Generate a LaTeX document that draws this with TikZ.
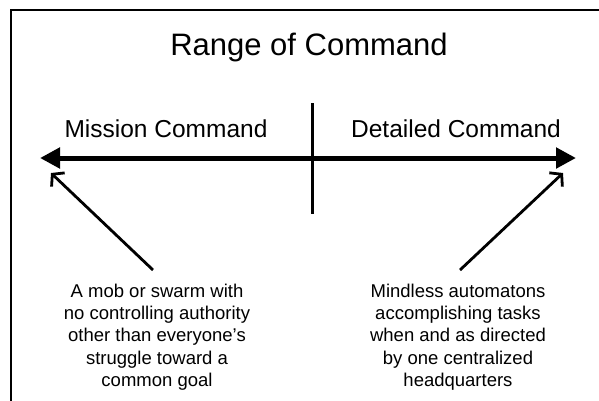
\documentclass[tikz,border=0pt]{standalone}
\usepackage{fontspec}
\setmainfont{Liberation Sans}
\usetikzlibrary{arrows.meta}
\begin{document}
\begin{tikzpicture}[x=1pt,y=-1pt,
  frame/.style={line width=2.8pt},
  titletext/.style={font=\fontsize{31}{36}\selectfont},
  sidetext/.style={font=\fontsize{24.5}{29}\selectfont, anchor=base},
  notetext/.style={font=\fontsize{18.5}{22.3}\selectfont, align=center, inner sep=0pt},
  axis/.style={line width=5pt, {Triangle[length=20pt,width=20pt]}-{Triangle[length=20pt,width=20pt]}},
  divider/.style={line width=3pt},
  pointer/.style={line width=2.8pt, -{Straight Barb[length=8pt,width=19pt,line width=2.8pt]}}]
\clip (0,0) rectangle (599,400);
\useasboundingbox (0,0) rectangle (599,400);
% outer frame, running past the right and lower edges
\draw[frame] (11,10) rectangle (640,440);
% heading
\node[titletext, anchor=base] (title) at (309,55) {Range of Command};
% the two ends of the range
\node[sidetext] (mission) at (166,137) {Mission Command};
\node[sidetext] (detailed) at (456,137) {Detailed Command};
% axis and centre divider
\coordinate (axisL) at (40,158);
\coordinate (axisR) at (576,158);
\draw[axis] (axisL) -- (axisR);
\coordinate (divTop) at (312.5,103);
\coordinate (divBot) at (312.5,214);
\draw[divider] (divTop) -- (divBot);
% explanatory notes
\node[notetext] (leftnote) at (157,337) {A mob or swarm with\\no controlling authority\\other than everyone’s\\struggle toward a\\common goal};
\node[notetext] (rightnote) at (458,337) {Mindless automatons\\accomplishing tasks\\when and as directed\\by one centralized\\headquarters};
% pointers from the notes to the ends of the axis
\coordinate (leftTail) at (153,270);
\coordinate (leftTip) at (51,173);
\coordinate (rightTail) at (460,270);
\coordinate (rightTip) at (563,173);
\draw[pointer] (leftTail) -- (leftTip);
\draw[pointer] (rightTail) -- (rightTip);
\end{tikzpicture}
\end{document}
